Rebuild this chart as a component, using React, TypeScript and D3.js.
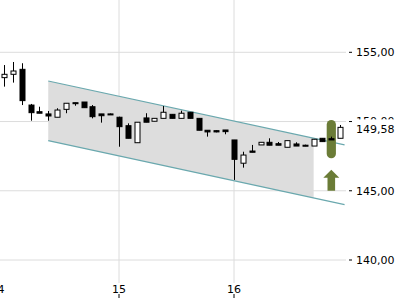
import React from "react";
import * as d3 from "d3";

const opens = [153.17,153.41,153.77,151.19,150.71,150.55,150.31,150.88,151.36,151.41,151.07,150.55,150.55,150.31,149.70,148.47,150.26,150.02,150.23,150.52,150.23,150.67,150.23,149.37,149.34,149.39,148.67,146.99,147.87,148.31,148.50,148.40,148.14,148.38,148.29,148.23,148.79,148.76,148.79];
const highs = [154.08,154.30,154.21,151.27,151.07,150.76,150.96,151.32,151.36,151.41,151.19,150.55,150.58,150.35,149.87,149.95,150.60,150.23,151.12,150.52,150.78,150.67,150.23,149.37,149.36,149.39,148.67,147.82,148.31,148.50,148.79,148.52,148.62,148.50,148.33,148.72,148.79,148.91,149.75];
const lows = [152.52,152.81,151.19,150.06,150.60,150.06,150.31,150.60,151.14,151.00,150.23,149.92,150.53,148.18,148.79,148.47,149.95,150.02,150.23,150.23,150.23,150.23,149.37,148.91,149.22,149.08,145.78,146.67,147.78,148.31,148.29,148.29,148.14,148.23,148.22,148.23,148.55,148.67,148.79];
const closes = [153.41,153.65,151.51,150.64,150.60,150.40,150.83,151.32,151.29,151.00,150.35,150.42,150.55,149.63,148.79,149.95,149.95,150.23,150.67,150.23,150.60,150.23,149.37,149.25,149.25,149.27,147.27,147.58,147.78,148.50,148.29,148.29,148.62,148.23,148.29,148.72,148.55,148.67,149.58];

const candlesPerDay = 13;
const firstDay = 14;
const dayTicks = [14, 15, 16];
const priceTicks = [155, 150, 145, 140];
const lastPrice = 149.58;

// regression channel: [startIndex, shadeEndIndex, lineEndIndex]
const channelIdx = [5, 35, 38.5];
const channelUpper = [152.93, 148.31]; // at start and line end
const channelLower = [148.62, 144.0];

const markerIdx = 37;
const markerRange = [147.35, 150.11];
const arrowRange = [145.0, 146.52];

const fmt = (v: number) => v.toFixed(2).replace(".", ",");

export default function App() {
  const W = 400, H = 300;
  const x = d3.scaleLinear().domain([14, 16]).range([4, 234]);
  const y = d3.scaleLinear().domain([140, 155]).range([260, 52.3]);
  const xi = (i: number) => x(firstDay + i / candlesPerDay);
  const plotRight = 346;
  const bw = 5;

  const up = d3.scaleLinear().domain([channelIdx[0], channelIdx[2]]).range(channelUpper);
  const lo = d3.scaleLinear().domain([channelIdx[0], channelIdx[2]]).range(channelLower);
  const shadePts: [number, number][] = [
    [xi(channelIdx[0]), y(up(channelIdx[0]))],
    [xi(channelIdx[1]), y(up(channelIdx[1]))],
    [xi(channelIdx[1]), y(lo(channelIdx[1]))],
    [xi(channelIdx[0]), y(lo(channelIdx[0]))],
  ];
  const line = d3.line();
  const font = "DejaVu Sans, sans-serif";

  const mx = xi(markerIdx);
  const ay0 = y(arrowRange[0]);
  const ay1 = y(arrowRange[1]);
  const arrowPath = `M${mx - 3.8},${ay0} L${mx + 3.8},${ay0} L${mx + 3.8},${ay1 + 8} L${mx + 8},${ay1 + 8} L${mx},${ay1} L${mx - 8},${ay1 + 8} L${mx - 3.8},${ay1 + 8} Z`;

  return (
    <svg width={W} height={H} style={{ position: "absolute", left: 0, top: 0, background: "#fff" }}>
      <rect width={W} height={H} fill="#fff" />
      {priceTicks.map((p) => (
        <line key={"h" + p} x1={0} x2={plotRight} y1={y(p)} y2={y(p)} stroke="#dcdcdc" strokeWidth={1} />
      ))}
      {dayTicks.filter((d) => d !== 14).map((d) => (
        <line key={"v" + d} x1={x(d)} x2={x(d)} y1={0} y2={283} stroke="#dcdcdc" strokeWidth={1} />
      ))}
      <path d={line(shadePts) + "Z"} fill="#dddddd" />
      <path d={line([[xi(channelIdx[0]), y(up(channelIdx[0]))], [xi(channelIdx[2]), y(up(channelIdx[2]))]])!} stroke="#6aa8ae" strokeWidth={1.2} fill="none" />
      <path d={line([[xi(channelIdx[0]), y(lo(channelIdx[0]))], [xi(channelIdx[2]), y(lo(channelIdx[2]))]])!} stroke="#6aa8ae" strokeWidth={1.2} fill="none" />
      <rect x={mx - 4.6} width={9.2} y={y(markerRange[1])} height={y(markerRange[0]) - y(markerRange[1])} rx={4.6} fill="#6b7c37" />
      <path d={arrowPath} fill="#6b7c37" />
      {opens.map((o, i) => {
        const c = closes[i];
        const cx = Math.round(xi(i)) + 0.5;
        const upC = c > o;
        const top = y(Math.max(o, c));
        const bot = y(Math.min(o, c));
        const h = Math.max(bot - top, 1);
        return (
          <g key={i}>
            <line x1={cx} x2={cx} y1={y(highs[i])} y2={y(lows[i])} stroke="#000" strokeWidth={1} />
            <rect x={cx - bw / 2} y={top} width={bw} height={h} fill={upC ? "#fff" : "#000"} stroke="#000" strokeWidth={1} />
          </g>
        );
      })}
      {priceTicks.map((p) => (
        <g key={"t" + p}>
          <line x1={349} x2={352} y1={y(p)} y2={y(p)} stroke="#000" strokeWidth={1} />
          <text x={356} y={y(p)} dy="0.35em" fontFamily={font} fontSize={11} fill="#000">{fmt(p)}</text>
        </g>
      ))}
      <rect x={354} y={y(lastPrice) - 8} width={46} height={18} fill="#fff" />
      <text x={356} y={y(lastPrice) + 1.5} dy="0.35em" fontFamily={font} fontSize={11} fill="#000">{fmt(lastPrice)}</text>
      {dayTicks.map((d) => (
        <g key={"x" + d}>
          <text x={d === 14 ? x(d) - 6.5 : x(d)} y={293} textAnchor="middle" fontFamily={font} fontSize={11} fill="#000">{d}</text>
          {d !== 14 && <line x1={x(d)} x2={x(d)} y1={294} y2={298} stroke="#000" strokeWidth={1} />}
        </g>
      ))}
    </svg>
  );
}
